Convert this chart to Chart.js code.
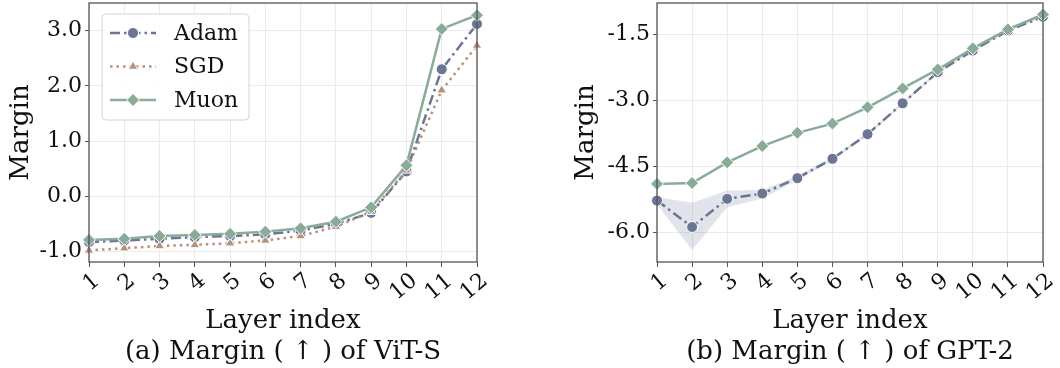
<!DOCTYPE html>
<html>
<head>
<meta charset="utf-8">
<script src="https://cdn.jsdelivr.net/npm/chart.js@4"></script>
<style>
    html, body { margin: 0; padding: 0; background: #fff; }
    body { width: 1060px; height: 368px; position: relative; overflow: hidden; }
    .panel { position: absolute; top: 0; height: 368px; }
    #left { left: 0; width: 490px; }
    #right { left: 560px; width: 500px; }
</style>
</head>
<body>
<div class="panel" id="left"><canvas id="vitChart"></canvas></div>
<div class="panel" id="right"><canvas id="gptChart"></canvas></div>
<script>
const layers = ['1', '2', '3', '4', '5', '6', '7', '8', '9', '10', '11', '12'];

// (a) ViT-S
const vitAdam = [-0.83, -0.80, -0.77, -0.74, -0.72, -0.69, -0.62, -0.50, -0.30, 0.45, 2.30, 3.12];
const vitSgd = [-0.98, -0.94, -0.90, -0.88, -0.85, -0.80, -0.72, -0.55, -0.28, 0.47, 1.92, 2.73];
const vitMuon = [-0.79, -0.77, -0.72, -0.70, -0.68, -0.64, -0.58, -0.46, -0.20, 0.56, 3.03, 3.28];
const vitTicks = [-1, 0, 1, 2, 3];

// (b) GPT-2
const gptAdam = [-5.28, -5.88, -5.24, -5.12, -4.77, -4.33, -3.77, -3.07, -2.36, -1.87, -1.42, -1.10];
const gptAdamUpper = [-5.20, -5.33, -5.05, -5.04, -4.72, -4.29, -3.73, -3.04, -2.33, -1.84, -1.40, -1.08];
const gptAdamLower = [-5.36, -6.40, -5.43, -5.23, -4.82, -4.37, -3.81, -3.10, -2.39, -1.90, -1.44, -1.12];
const gptMuon = [-4.90, -4.88, -4.41, -4.04, -3.74, -3.53, -3.16, -2.73, -2.30, -1.82, -1.39, -1.05];
const gptTicks = [-6, -4.5, -3, -1.5];

const FONT = "'DejaVu Serif', serif";
const COLORS = {
    adam: '#6b7695',
    sgd: '#b8917a',
    muon: '#8aab98',
    band: 'rgba(107, 118, 149, 0.2)',
    grid: '#ebebeb',
    frame: '#555555'
};

function seriesStyle(name) {
    const styles = {
        Adam: { color: COLORS.adam, dash: [10, 4, 2.5, 4], point: 'circle', radius: 5.5, order: 2 },
        SGD: { color: COLORS.sgd, dash: [2.5, 4], point: 'triangle', radius: 5.5, order: 1 },
        Muon: { color: COLORS.muon, dash: [], point: 'rectRot', radius: 6.5, order: 0 }
    };
    return styles[name];
}

function makeDataset(name, values) {
    const s = seriesStyle(name);
    return {
        label: name,
        data: values,
        borderColor: s.color,
        backgroundColor: s.color,
        borderWidth: 2.5,
        borderDash: s.dash,
        pointStyle: s.point,
        pointRadius: s.radius,
        pointBackgroundColor: s.color,
        pointBorderColor: '#ffffff',
        pointBorderWidth: 1,
        tension: 0,
        order: s.order
    };
}

// matplotlib-style frame on all four sides
const framePlugin = {
    id: 'frame',
    afterDatasetsDraw(chart) {
        const { ctx, chartArea } = chart;
        ctx.save();
        ctx.strokeStyle = COLORS.frame;
        ctx.lineWidth = 1.3;
        ctx.strokeRect(chartArea.left, chartArea.top, chartArea.right - chartArea.left, chartArea.bottom - chartArea.top);
        ctx.restore();
    }
};

// boxed legend inside the plot, line sample + marker per series
const legendPlugin = {
    id: 'boxLegend',
    afterDatasetsDraw(chart, args, opts) {
        if (!opts.show) return;
        const { ctx, chartArea } = chart;
        const x0 = chartArea.left + 13;
        const y0 = chartArea.top + 11;
        const w = 147;
        const h = 106;
        ctx.save();
        ctx.beginPath();
        ctx.roundRect(x0, y0, w, h, 4);
        ctx.fillStyle = 'rgba(255, 255, 255, 0.85)';
        ctx.fill();
        ctx.strokeStyle = '#d4d4d4';
        ctx.lineWidth = 1;
        ctx.stroke();

        const items = chart.data.datasets.filter(ds => ds.label && ds.pointStyle);
        items.forEach((ds, i) => {
            const y = y0 + 19 + i * 33.5;
            const lx = x0 + 8;
            const rx = x0 + 54;
            ctx.beginPath();
            ctx.setLineDash(ds.borderDash);
            ctx.strokeStyle = ds.borderColor;
            ctx.lineWidth = ds.borderWidth;
            ctx.moveTo(lx, y);
            ctx.lineTo(rx, y);
            ctx.stroke();
            ctx.setLineDash([]);
            ctx.fillStyle = ds.pointBackgroundColor;
            ctx.strokeStyle = ds.pointBorderColor;
            ctx.lineWidth = ds.pointBorderWidth;
            Chart.helpers.drawPoint(ctx, {
                pointStyle: ds.pointStyle,
                radius: ds.pointRadius,
                borderWidth: ds.pointBorderWidth,
                rotation: 0
            }, (lx + rx) / 2, y);
            ctx.fillStyle = '#111';
            ctx.font = '22px ' + FONT;
            ctx.textBaseline = 'middle';
            ctx.textAlign = 'left';
            ctx.fillText(ds.label, x0 + 72, y + 1);
        });
        ctx.restore();
    }
};

function buildOptions(cfg) {
    return {
        responsive: false,
        animation: false,
        events: [],
        layout: { autoPadding: false, padding: { top: 3, right: cfg.padRight, bottom: 0, left: 0 } },
        plugins: {
            legend: { display: false },
            tooltip: { enabled: false },
            boxLegend: { show: cfg.legend }
        },
        scales: {
            x: {
                type: 'category',
                offset: false,
                grid: { color: COLORS.grid, tickColor: COLORS.frame, tickLength: 5, lineWidth: 1 },
                border: { display: false },
                ticks: {
                    autoSkip: false,
                    minRotation: 40,
                    maxRotation: 40,
                    labelOffset: 8,
                    padding: 1,
                    color: '#111',
                    font: { family: FONT, size: 22 }
                },
                title: {
                    display: true,
                    text: ['Layer index', cfg.caption],
                    color: '#111',
                    font: { family: FONT, size: 26, lineHeight: 1.2 },
                    padding: { top: 0, bottom: 0 }
                },
                afterFit(scale) {
                    scale.height = 106;
                    scale.paddingLeft = 0;
                    scale.paddingRight = 0;
                }
            },
            y: {
                min: cfg.yMin,
                max: cfg.yMax,
                grid: { color: COLORS.grid, tickColor: COLORS.frame, tickLength: 4, lineWidth: 1 },
                border: { display: false },
                afterBuildTicks(scale) { scale.ticks = cfg.yTicks.map(v => ({ value: v })); },
                ticks: {
                    color: '#111',
                    padding: 3,
                    font: { family: FONT, size: 22 },
                    callback: v => v.toFixed(1)
                },
                title: {
                    display: true,
                    text: 'Margin',
                    color: '#111',
                    font: { family: FONT, size: 26, lineHeight: 1.2 },
                    padding: { top: cfg.titlePad, bottom: 0 }
                },
                afterFit(scale) {
                    scale.width = cfg.yWidth;
                    scale.paddingTop = 0;
                    scale.paddingBottom = 0;
                }
            }
        }
    };
}

function setupVitChart() {
    const ctx = document.getElementById('vitChart');
    ctx.width = 490;
    ctx.height = 368;
    new Chart(ctx, {
        type: 'line',
        data: {
            labels: layers,
            datasets: [
                makeDataset('Adam', vitAdam),
                makeDataset('SGD', vitSgd),
                makeDataset('Muon', vitMuon)
            ]
        },
        options: buildOptions({
            caption: '(a) Margin ( \u2191 ) of ViT-S',
            yMin: -1.19, yMax: 3.5, yTicks: vitTicks,
            yWidth: 89, padRight: 13, titlePad: 6, legend: true
        }),
        plugins: [framePlugin, legendPlugin]
    });
}

function setupGptChart() {
    const ctx = document.getElementById('gptChart');
    ctx.width = 500;
    ctx.height = 368;
    const upper = {
        data: gptAdamUpper,
        borderWidth: 0,
        pointRadius: 0,
        fill: false,
        order: 3
    };
    const lower = {
        data: gptAdamLower,
        borderWidth: 0,
        pointRadius: 0,
        backgroundColor: COLORS.band,
        fill: 2,
        order: 3
    };
    new Chart(ctx, {
        type: 'line',
        data: {
            labels: layers,
            datasets: [
                makeDataset('Adam', gptAdam),
                makeDataset('Muon', gptMuon),
                upper,
                lower
            ]
        },
        options: buildOptions({
            caption: '(b) Margin ( \u2191 ) of GPT-2',
            yMin: -6.675, yMax: -0.79, yTicks: gptTicks,
            yWidth: 97, padRight: 17, titlePad: 11, legend: false
        }),
        plugins: [framePlugin, legendPlugin]
    });
}

setupVitChart();
setupGptChart();
</script>
</body>
</html>
